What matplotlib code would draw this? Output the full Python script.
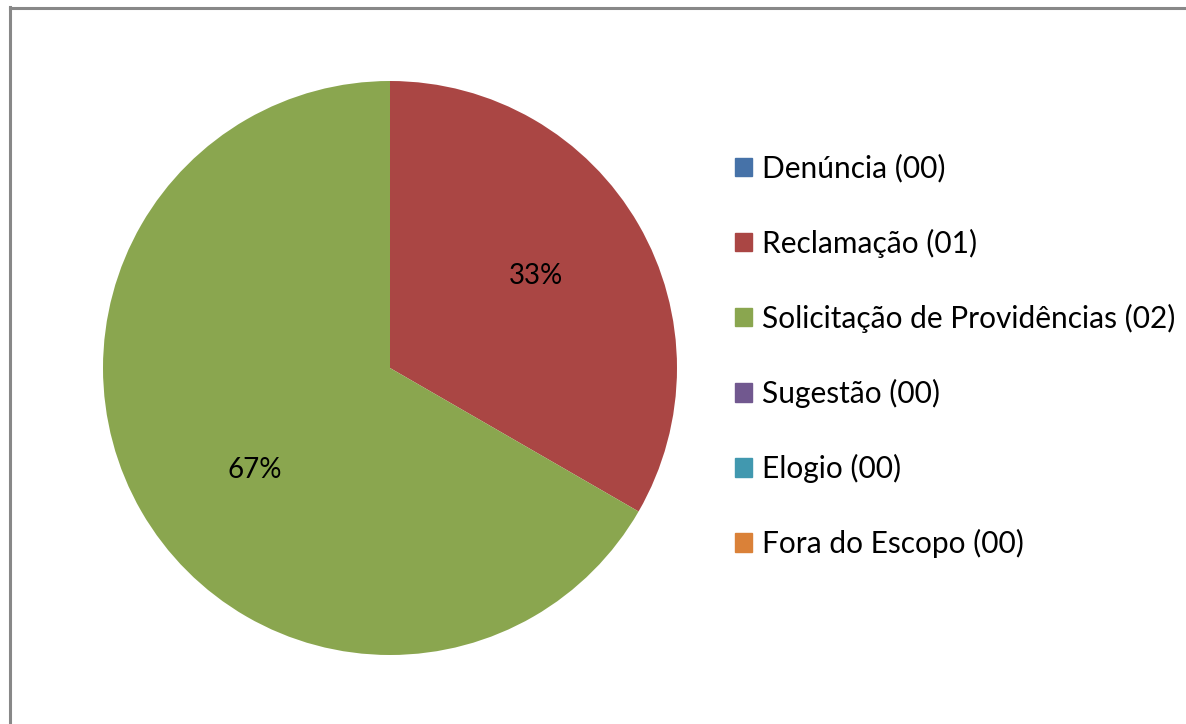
import matplotlib.pyplot as plt
import matplotlib.patches as mpatches
from matplotlib.lines import Line2D

labels = ['Denúncia (00)', 'Reclamação (01)', 'Solicitação de Providências (02)',
          'Sugestão (00)', 'Elogio (00)', 'Fora do Escopo (00)']
values = [0, 1, 2, 0, 0, 0]
colors = ['#4672A8', '#AA4644', '#8AA64F', '#71588F', '#4198AF', '#DA8138']

plt.rcParams['font.family'] = ['Lato', 'DejaVu Sans']

fig = plt.figure(figsize=(11.86, 7.24), dpi=100)
W, H = 1186, 724

# pie placed in a square area (pixels)
cx, cy, r = 390, 368, 287
ax = fig.add_axes([(cx - r) / W, (H - cy - r) / H, 2 * r / W, 2 * r / H])


def pct(p):
    return f'{p:.0f}%' if p > 0 else ''


wedges, texts, autotexts = ax.pie(values, colors=colors, startangle=90, counterclock=False,
                                  autopct=pct, pctdistance=0.59, radius=1,
                                  textprops={'fontsize': 20, 'color': 'black'})
# Excel-like label placement (nudged off the exact mid-angle)
autotexts[1].set_position((0.51, 0.32))
autotexts[2].set_position((-0.47, -0.355))
ax.set_xlim(-1, 1)
ax.set_ylim(-1, 1)
ax.set_aspect('equal')

handles = [mpatches.Patch(color=c, label=l) for c, l in zip(colors, labels)]
fig.legend(handles=handles, loc='upper left', bbox_to_anchor=(723 / W, 1 - 142 / H),
           frameon=False, fontsize=21.5, handlelength=0.57, handleheight=0.57,
           handletextpad=0.33, labelspacing=1.54, borderaxespad=0)

# chart area border (cut off at right and bottom)
fig.add_artist(Line2D([9.5 / W, 9.5 / W], [0, 1 - 7 / H], color='#888888', lw=2.2,
                      transform=fig.transFigure))
fig.add_artist(Line2D([9.5 / W, 1], [1 - 7.5 / H, 1 - 7.5 / H], color='#888888', lw=2.2,
                      transform=fig.transFigure))

fig.savefig('out.png', dpi=100)
